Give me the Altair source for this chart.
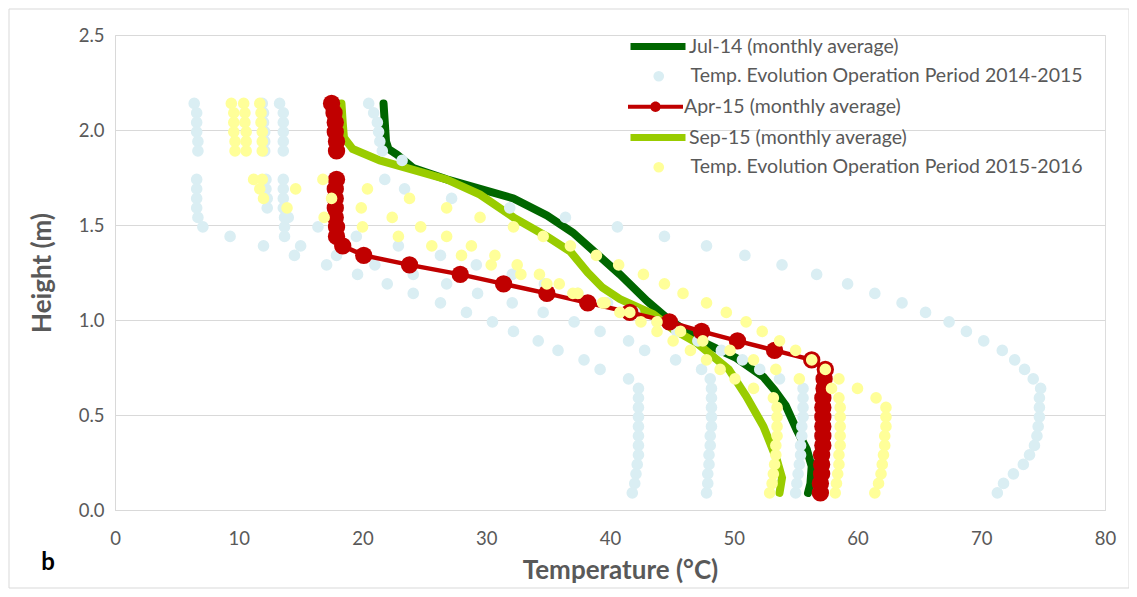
import altair as alt
import pandas as pd

# ---------------- data ----------------
HEIGHTS = [2.14, 2.09, 2.04, 1.99, 1.94, 1.89, 1.84, 1.79, 1.74, 1.69, 1.64, 1.59,
           1.54, 1.49, 1.44, 1.39, 1.34, 1.29, 1.24, 1.19, 1.14, 1.09, 1.04, 0.99,
           0.94, 0.89, 0.84, 0.79, 0.74, 0.69, 0.64, 0.59, 0.54, 0.49, 0.44, 0.39,
           0.34, 0.29, 0.24, 0.19, 0.14, 0.09]

# Temp. Evolution Operation Period 2014-2015 (four profiles)
LB_1 = [6.4, 6.6, 6.6, 6.6, 6.7, 6.7, None, None, 6.6, 6.6, 6.6, 6.6, 6.7,
        7.1, 9.3, 12.0, 14.5, 17.1, 19.6, 22.0, 24.1, 26.3, 28.4, 30.5, 32.2, 34.2,
        35.8, 37.9, 39.2, 41.5,
        42.3, 42.3, 42.3, 42.3, 42.3, 42.3, 42.3, 42.3, 42.2, 42.1, 42.0, 41.8]
LB_2 = [13.3, 13.6, 13.6, 13.6, 13.6, 13.6, None, None,
        13.6, 13.6, 13.6, 13.6, 13.7, 13.7, 13.7,
        15.0, 17.9, 21.0, 24.1, 26.8, 29.3, 32.1, 34.6, 37.1, 39.2, 41.5, 42.8, 45.3,
        47.4, 48.1,
        48.2, 48.2, 48.2, 48.2, 48.2, 48.1, 48.1, 48.0, 48.0, 47.9, 47.9, 47.8]
LB_3 = [11.9, 12.0, 12.0, 12.1, 12.1, 12.1, None, None,
        12.2, 12.2, 12.3, 12.3, 14.0, 16.4, 19.5, 22.9, 26.3, 29.2, 32.1, 34.7, 37.4,
        39.8, 42.0, 43.8, 45.4, 47.1, 49.0, 50.7, 52.1, 53.7,
        55.6, 55.6, 55.6, 55.6, 55.5, 55.5, 55.4, 55.4, 55.3, 55.2, 55.1, 55.0]
LB_4 = [20.5, 20.9, 21.2, 21.3, 21.4, 21.6, 23.2, None,
        21.8, 23.4, 27.2, 31.9, 36.4, 40.6, 44.4, 47.8, 50.9, 53.9, 56.7, 59.2, 61.4,
        63.6, 65.5, 67.4, 68.8, 70.2, 71.7, 72.7, 73.5, 74.2, 74.8, 74.7, 74.7, 74.7,
        74.6, 74.5, 74.3, 73.9, 73.4, 72.6, 71.8, 71.3]

# Temp. Evolution Operation Period 2015-2016 (three profiles)
YL_1 = [9.4, 9.6, 9.6, 9.6, 9.7, 9.7, None, None,
        11.2, 11.7, 12.0, 13.9, 16.9, 20.0, 22.9, 25.6, 28.0, 30.4, 32.8, 34.9, 37.0,
        39.4, 40.8, 42.5, 43.8, 45.1, 46.5, 47.8, 48.9, 50.1, 51.6, 53.2,
        53.5, 53.5, 53.5, 53.5, 53.4, 53.4, 53.3, 53.2, 53.1, 52.9]
YL_2 = [10.4, 10.5, 10.5, 10.6, 10.6, 10.6, None, None,
        11.9, 14.6, 17.5, 19.9, 22.4, 24.7, 26.8, 28.8, 30.7, 32.5, 34.3, 35.9, 37.4,
        39.6, 41.6, 43.8, 45.7, 47.5, 49.7, 51.6, 53.4, 55.3, 57.9, 58.5,
        58.6, 58.6, 58.6, 58.6, 58.6, 58.5, 58.5, 58.4, 58.3, 58.2]
YL_3 = [11.7, 11.8, 11.8, 11.9, 11.9, 11.9, None, None,
        16.8, 20.4, 23.8, 26.8, 29.5, 32.2, 34.6, 36.8, 38.9, 40.7, 42.7, 44.4, 45.9,
        47.8, 49.4, 51.0, 52.3, 53.7, 55.0, 56.3, 57.4, 58.5, 60.0, 61.5,
        62.3, 62.3, 62.3, 62.2, 62.2, 62.1, 62.0, 61.9, 61.7, 61.4]

# Apr-15 (monthly average)
APR15_T = [17.5, 17.7, 17.8, 17.8, 17.9, 17.9, None, None,
           17.9, 17.8, 17.8, 17.8, 17.8, 17.9, 17.9, 18.4, 20.1, 23.8, 27.9, 31.4, 34.9,
           38.2, 41.6, 44.8, 47.4, 50.3, 53.3, 56.3, 57.4,
           57.3, 57.3, 57.2, 57.2, 57.2, 57.2, 57.2, 57.2, 57.1, 57.1, 57.1, 57.0, 57.0]

# Jul-14 (monthly average)
JUL14_T = [21.7, 21.8, 21.9, 22.1, 22.8, 24.1, 26.8, 29.5, 32.2, 34.9, 37.0, 38.9,
           40.8, 43.0, 44.6, 47.3, 50.2, 52.4, 53.3, 54.2, 55.1, 55.9, 56.3, 56.2, 56.0]
JUL14_H = [2.14, 2.04, 1.94, 1.90, 1.87, 1.80, 1.74, 1.69, 1.64, 1.55, 1.46, 1.35,
           1.24, 1.10, 1.01, 0.89, 0.80, 0.70, 0.63, 0.55, 0.42, 0.32, 0.23, 0.14, 0.09]

# Sep-15 (monthly average)
SEP15_T = [18.3, 18.4, 18.5, 19.2, 21.4, 24.1, 26.8, 29.5, 32.2, 34.9, 36.8, 38.2,
           39.4, 40.8, 43.5, 45.1, 47.0, 49.6, 51.0, 52.4, 53.5, 53.9, 53.7]
SEP15_H = [2.14, 2.04, 1.96, 1.90, 1.84, 1.79, 1.74, 1.66, 1.54, 1.44, 1.36, 1.25,
           1.17, 1.11, 1.03, 0.95, 0.88, 0.74, 0.60, 0.44, 0.26, 0.17, 0.09]

X_TICKS = [0, 10, 20, 30, 40, 50, 60, 70, 80]
Y_TICKS = [0.0, 0.5, 1.0, 1.5, 2.0, 2.5]

N_JUL = "Jul-14 (monthly average)"
N_LB = "Temp. Evolution Operation Period 2014-2015"
N_APR = "Apr-15 (monthly average)"
N_SEP = "Sep-15 (monthly average)"
N_YL = "Temp. Evolution Operation Period 2015-2016"

C_JUL = "#006600"
C_LB = "#DAEEF3"
C_APR = "#C00000"
C_SEP = "#99CC00"
C_YL = "#FFFF99"

GRAY = "#595959"
FONT = "Lato"


# ---------------- tables ----------------
def profiles(series, *temps_lists):
    rows = []
    for p, temps in enumerate(temps_lists):
        for t, h in zip(temps, HEIGHTS):
            if t is not None:
                rows.append({"T": t, "h": h, "series": series, "profile": p})
    return pd.DataFrame(rows)


def path(series, temps, heights):
    return pd.DataFrame({"T": temps, "h": heights, "series": series,
                         "idx": list(range(len(temps)))})


lb_df = profiles(N_LB, LB_1, LB_2, LB_3, LB_4)
yl_df = profiles(N_YL, YL_1, YL_2, YL_3)

apr_rows = []
seg = 0
for i, (t, h) in enumerate(zip(APR15_T, HEIGHTS)):
    if t is None:
        seg = 1
        continue
    apr_rows.append({"T": t, "h": h, "series": N_APR, "seg": seg, "idx": i})
apr_df = pd.DataFrame(apr_rows)

jul_df = path(N_JUL, JUL14_T, JUL14_H)
sep_df = path(N_SEP, SEP15_T, SEP15_H)

# ---------------- shared encodings ----------------
X = alt.X("T:Q", scale=alt.Scale(domain=[0, 80], nice=False),
          axis=alt.Axis(values=X_TICKS, grid=False, ticks=False,
                        domainColor="#d9d9d9", domainWidth=1,
                        labelFontSize=18.5, labelColor=GRAY, labelFont=FONT,
                        labelPadding=19, labelFlush=False,
                        title="Temperature (°C)", titleFontSize=26,
                        titleFont=FONT, titleFontWeight="bold", titleColor=GRAY,
                        titleX=505, titleY=60, titleBaseline="middle"))
Y = alt.Y("h:Q", scale=alt.Scale(domain=[0, 2.5], nice=False),
          axis=alt.Axis(values=Y_TICKS, format=".1f", grid=True,
                        gridColor="#d9d9d9", gridWidth=1, ticks=False,
                        domainColor="#d9d9d9", domainWidth=1,
                        labelFontSize=18.5, labelColor=GRAY, labelFont=FONT,
                        labelPadding=11, labelFlush=False,
                        title="Height (m)", titleFontSize=26, titleFont=FONT,
                        titleFontWeight="bold", titleColor=GRAY,
                        titleX=-73, titleY=237.5, titleBaseline="middle"))


def legend(x, y, **kw):
    return alt.Legend(title=None, orient="none", legendX=x, legendY=y,
                      labelFontSize=19.5, labelColor=GRAY, labelFont=FONT,
                      labelLimit=600, padding=0, **kw)


LINE_SYM = 3025  # 55 px long legend stroke
RED_SYMBOL = ("M-1,-0.075L1,-0.075L1,0.075L-1,0.075Z "
              "M0.19,0A0.19,0.19,0,1,1,-0.19,0A0.19,0.19,0,1,1,0.19,0Z")

jul = alt.Chart(jul_df).mark_line(strokeWidth=8, strokeCap="round").encode(
    x=X, y=Y, order="idx:Q",
    color=alt.Color("series:N", scale=alt.Scale(domain=[N_JUL], range=[C_JUL]),
                    legend=legend(512, -19.5, symbolType="stroke",
                                  symbolSize=LINE_SYM, symbolStrokeWidth=7,
                                  labelOffset=0)))

sep = alt.Chart(sep_df).mark_line(strokeWidth=8, strokeCap="round").encode(
    x=X, y=Y, order="idx:Q",
    color=alt.Color("series:N", scale=alt.Scale(domain=[N_SEP], range=[C_SEP]),
                    legend=legend(512, 71.5, symbolType="stroke",
                                  symbolSize=LINE_SYM, symbolStrokeWidth=7,
                                  labelOffset=0)))

lb = alt.Chart(lb_df).mark_circle(size=135, opacity=1).encode(
    x=X, y=Y,
    color=alt.Color("series:N", scale=alt.Scale(domain=[N_LB], range=[C_LB]),
                    legend=legend(534, 31.5, symbolType="circle", symbolSize=115,
                                  labelOffset=22)))

apr_line = alt.Chart(apr_df).mark_line(strokeWidth=4.5).encode(
    x=X, y=Y, order="idx:Q", detail="seg:N",
    color=alt.Color("series:N", scale=alt.Scale(domain=[N_APR], range=[C_APR]),
                    legend=None))

apr_pts = alt.Chart(apr_df).mark_circle(size=300, opacity=1).encode(
    x=X, y=Y,
    color=alt.Color("series:N", scale=alt.Scale(domain=[N_APR], range=[C_APR]),
                    legend=legend(512, 43.2, symbolType=RED_SYMBOL,
                                  symbolSize=LINE_SYM, labelOffset=0)))

yl = alt.Chart(yl_df).mark_circle(size=135, opacity=1).encode(
    x=X, y=Y,
    color=alt.Color("series:N", scale=alt.Scale(domain=[N_YL], range=[C_YL]),
                    legend=legend(534, 122.5, symbolType="circle", symbolSize=115,
                                  labelOffset=22)))

label_b = alt.Chart(pd.DataFrame({"t": ["b"]})).mark_text(
    fontSize=24, fontWeight="bold", font=FONT, color="black",
    align="center", baseline="middle").encode(
    text="t:N", x=alt.value(-67), y=alt.value(528))

frame = alt.Chart(pd.DataFrame({"t": [0]})).mark_rect(
    fillOpacity=0, stroke="#d9d9d9", strokeWidth=1).encode(
    x=alt.value(-106), x2=alt.value(1014), y=alt.value(-26), y2=alt.value(553))

chart = alt.layer(frame, jul, sep, lb, apr_line, apr_pts, yl, label_b).resolve_scale(
    color="independent"
).properties(
    width=990, height=475,
    padding={"left": 107, "top": 27, "right": 24, "bottom": 79},
    autosize=alt.AutoSizeParams(type="none"),
).configure_view(strokeWidth=0).configure(font=FONT)

chart.save("out.html", embed_options={"renderer": "svg", "actions": False})
